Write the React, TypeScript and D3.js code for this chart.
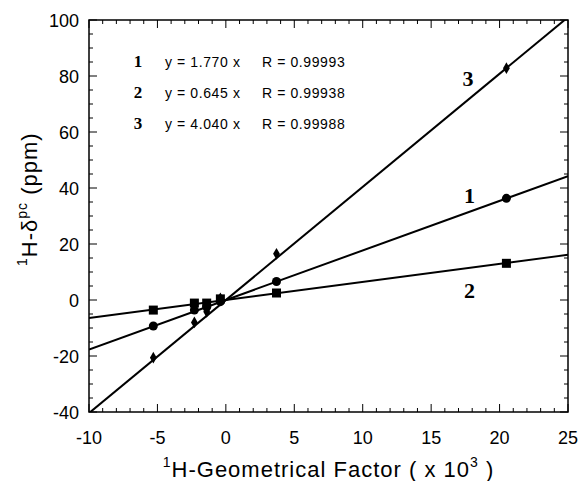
import React, { useEffect, useRef } from 'react';
import * as d3 from 'd3';

// geometrical factor (x 10^3) of the measured protons
const factors = [-5.3, -2.3, -1.4, -0.4, 3.7, 20.5];
// 1H shift in ppm for the three series
const series1 = [-9.3, -3.6, -2.5, -0.6, 6.6, 36.3];
const series2 = [-3.6, -1.1, -1.1, 0.4, 2.5, 13.1];
const series3 = [-20.6, -8.0, -4.2, 0.6, 16.5, 82.8];
const slopes = [1.77, 0.645, 4.04];
const fitLabels = ['1', '2', '3'];
const fitEquations = ['y = 1.770 x', 'y = 0.645 x', 'y = 4.040 x'];
const fitR = ['R = 0.99993', 'R = 0.99938', 'R = 0.99988'];
const xTicks = [-10, -5, 0, 5, 10, 15, 20, 25];
const yTicks = [-40, -20, 0, 20, 40, 60, 80, 100];

const App = () => {
  const ref = useRef(null);

  useEffect(() => {
    const svg = d3.select(ref.current);
    svg.selectAll('*').remove();

    const margin = { top: 20, right: 11, bottom: 69, left: 89 };
    const width = 579;
    const height = 481;
    const x = d3.scaleLinear().domain([-10, 25]).range([margin.left, width - margin.right]);
    const y = d3.scaleLinear().domain([-40, 100]).range([height - margin.bottom, margin.top]);
    const font = 'Arial, "Liberation Sans", sans-serif';

    svg.append('defs').append('clipPath').attr('id', 'plot')
      .append('rect')
      .attr('x', x(-10)).attr('y', y(100))
      .attr('width', x(25) - x(-10)).attr('height', y(-40) - y(100));

    // inner ticks on all four sides
    const ticks = svg.append('g').attr('stroke', '#000').attr('stroke-width', 1);
    d3.range(-10, 26, 1).forEach(v => {
      const len = v % 5 === 0 ? 8 : 4;
      ticks.append('line').attr('x1', x(v)).attr('x2', x(v)).attr('y1', y(-40)).attr('y2', y(-40) - len);
      ticks.append('line').attr('x1', x(v)).attr('x2', x(v)).attr('y1', y(100)).attr('y2', y(100) + len);
    });
    d3.range(-40, 101, 5).forEach(v => {
      const len = v % 20 === 0 ? 8 : 4;
      ticks.append('line').attr('x1', x(-10)).attr('x2', x(-10) + len).attr('y1', y(v)).attr('y2', y(v));
      ticks.append('line').attr('x1', x(25)).attr('x2', x(25) - len).attr('y1', y(v)).attr('y2', y(v));
    });

    svg.append('rect')
      .attr('x', x(-10)).attr('y', y(100))
      .attr('width', x(25) - x(-10)).attr('height', y(-40) - y(100))
      .attr('fill', 'none').attr('stroke', '#000').attr('stroke-width', 1.5);

    // tick labels
    svg.append('g').selectAll('text').data(xTicks).join('text')
      .attr('x', d => x(d)).attr('y', y(-40) + 32)
      .attr('text-anchor', 'middle')
      .attr('font-family', font).attr('font-size', 18)
      .text(d => d);
    svg.append('g').selectAll('text').data(yTicks).join('text')
      .attr('x', x(-10) - 10).attr('y', d => y(d) + 6.5)
      .attr('text-anchor', 'end')
      .attr('font-family', font).attr('font-size', 18)
      .text(d => d);

    // fit lines
    const line = d3.line().x(d => x(d[0])).y(d => y(d[1]));
    slopes.forEach(s => {
      svg.append('path')
        .datum([[-10, -10 * s], [25, 25 * s]])
        .attr('clip-path', 'url(#plot)')
        .attr('fill', 'none').attr('stroke', '#000').attr('stroke-width', 2)
        .attr('d', line);
    });

    // markers
    svg.append('g').selectAll('rect').data(factors).join('rect')
      .attr('x', (d) => x(d) - 4.5)
      .attr('y', (d, i) => y(series2[i]) - 4.5)
      .attr('width', 9).attr('height', 9).attr('fill', '#000');
    svg.append('g').selectAll('circle').data(factors).join('circle')
      .attr('cx', d => x(d))
      .attr('cy', (d, i) => y(series1[i]))
      .attr('r', 4.5).attr('fill', '#000');
    const diamond = d3.symbol().type(d3.symbolDiamond).size(40);
    svg.append('g').selectAll('path').data(factors).join('path')
      .attr('transform', (d, i) => `translate(${x(d)},${y(series3[i])})`)
      .attr('d', diamond).attr('fill', '#000');

    // line labels
    const serif = '"Times New Roman", "Liberation Serif", serif';
    [[17.7, 79, '3'], [17.8, 37.5, '1'], [17.8, 3.5, '2']].forEach(([xv, yv, t]) => {
      svg.append('text')
        .attr('x', x(xv)).attr('y', y(yv))
        .attr('text-anchor', 'middle').attr('dominant-baseline', 'central')
        .attr('font-family', serif).attr('font-weight', 'bold').attr('font-size', 22)
        .text(t);
    });

    // equations legend
    fitLabels.forEach((lab, i) => {
      const ty = 67 + i * 31;
      svg.append('text').attr('x', 138).attr('y', ty).attr('text-anchor', 'middle')
        .attr('font-family', serif).attr('font-weight', 'bold').attr('font-size', 17)
        .text(lab);
      svg.append('text').attr('x', 165).attr('y', ty)
        .attr('font-family', font).attr('font-size', 14).attr('letter-spacing', 0.6)
        .text(fitEquations[i]);
      svg.append('text').attr('x', 262).attr('y', ty)
        .attr('font-family', font).attr('font-size', 14).attr('letter-spacing', 0.6)
        .text(fitR[i]);
    });

    // axis titles
    const xt = svg.append('text')
      .attr('x', (x(-10) + x(25)) / 2).attr('y', 477)
      .attr('text-anchor', 'middle')
      .attr('font-family', font).attr('font-size', 22).attr('letter-spacing', 1);
    xt.append('tspan').attr('font-size', 14).attr('dy', -10).text('1');
    xt.append('tspan').attr('dy', 10).text('H-Geometrical Factor ( x 10');
    xt.append('tspan').attr('font-size', 14).attr('dy', -10).text('3');
    xt.append('tspan').attr('dy', 10).text(' )');

    const yt = svg.append('text')
      .attr('transform', `translate(37,${y(36)}) rotate(-90)`)
      .attr('text-anchor', 'middle')
      .attr('font-family', font).attr('font-size', 22).attr('letter-spacing', 1);
    yt.append('tspan').attr('font-size', 14).attr('dy', -10).text('1');
    yt.append('tspan').attr('dy', 10).text('H-δ');
    yt.append('tspan').attr('font-size', 14).attr('dy', -10).text('pc');
    yt.append('tspan').attr('dy', 10).text(' (ppm)');
  }, []);

  return (
    <svg ref={ref} width={579} height={481}
      style={{ position: 'absolute', left: 0, top: 0, background: '#fff' }} />
  );
};

export default App;
